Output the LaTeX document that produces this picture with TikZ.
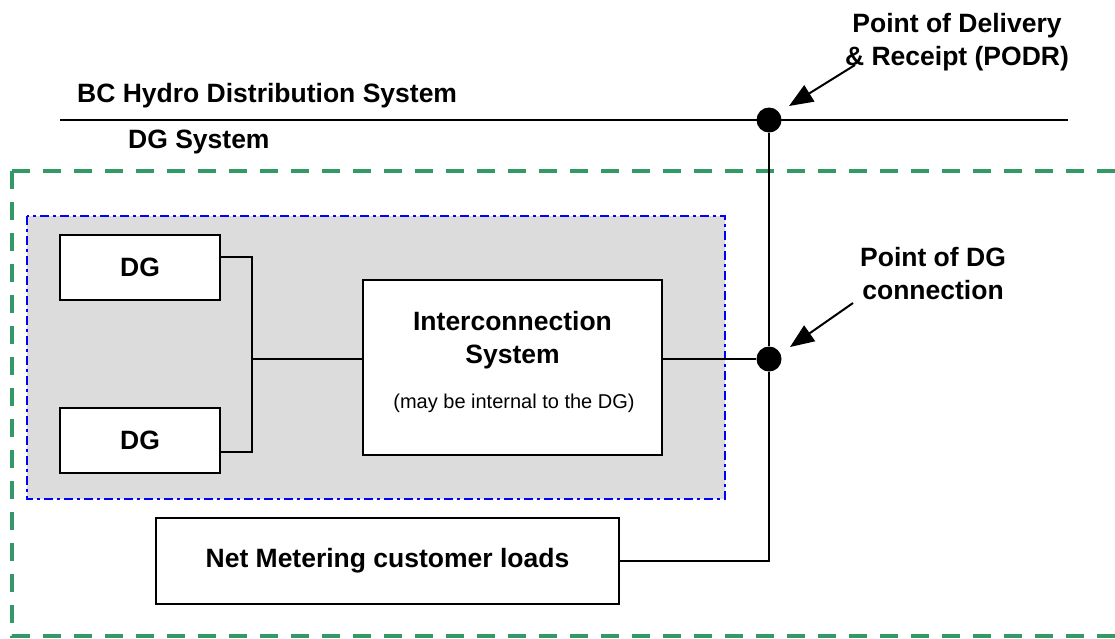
\documentclass[tikz,border=0pt]{standalone}
\usepackage{fontspec}
\setmainfont{Liberation Sans}
\usetikzlibrary{arrows.meta,calc}
\definecolor{dggreen}{RGB}{51,153,102}
\definecolor{panelgray}{RGB}{220,220,220}
\begin{document}
\begin{tikzpicture}[x=1pt,y=-1pt,
  box/.style={draw, line width=2pt, fill=white, inner sep=0pt},
  big/.style={font=\fontsize{26.5}{32.5}\selectfont\bfseries, inner sep=0pt},
  small/.style={font=\fontsize{20}{24}\selectfont, inner sep=0pt},
  wire/.style={line width=1.5pt},
  junction/.style={circle, fill=black, minimum size=25pt, inner sep=0pt},
  pointer/.style={line width=2pt, -{Triangle[length=24pt,width=19pt]}}]
\useasboundingbox (0,0) rectangle (1115,638);
% DG system boundary (green dashed)
\draw[dggreen, line width=4pt, dash pattern=on 18pt off 13pt] (12,171) -- (1135,171);
\draw[dggreen, line width=4pt, dash pattern=on 18pt off 13pt] (12,171) -- (12,636) -- (1135,636);
% generation panel (blue dash-dot)
\draw[fill=panelgray, draw=blue, line width=2.6pt, dash pattern=on 9pt off 4pt on 3pt off 4pt] (27,216) rectangle (725,499);
% distribution line
\coordinate (busL) at (60,120);
\coordinate (busR) at (1068,120);
\draw[wire] (busL) -- (busR);
% junctions
\node[junction] (podr) at (769,120) {};
\node[junction] (pdg) at (769,359) {};
% boxes
\node[box, minimum width=160pt, minimum height=65pt, big] (dg1) at (140,267.5) {DG};
\node[box, minimum width=160pt, minimum height=65pt, big] (dg2) at (140,440.5) {DG};
\node[box, minimum width=299pt, minimum height=175pt] (ic) at (512.5,367.5) {};
\node[big, align=center, anchor=base] (ictext) at (512.5,363) {Interconnection\\System};
\node[small, anchor=base] (icnote) at (514,408) {(may be internal to the DG)};
\node[box, minimum width=463pt, minimum height=86pt, big] (net) at (387.5,561) {Net Metering customer loads};
% labels
\node[big, anchor=base west] (bchl) at (77,102) {BC Hydro Distribution System};
\node[big, anchor=base west] (dgsl) at (128,148) {DG System};
\node[big, align=center, anchor=base] (podrl) at (957,65) {Point of Delivery\\\& Receipt (PODR)};
\node[big, align=center, anchor=base] (pdgl) at (933,299) {Point of DG\\connection};
% wiring
\coordinate (bj) at (252,359);
\draw[wire] ($(dg1.east)+(0,-10.5)$) -| (bj);
\draw[wire] ($(dg2.east)+(0,11.5)$) -| (bj);
\draw[wire] (bj) -- (ic.west |- bj);
\draw[wire] (ic.east |- pdg) -- (pdg);
\draw[wire] (podr) -- (pdg);
\draw[wire] (pdg) |- (net.east);
% pointers
\coordinate (a1s) at (855,65);
\coordinate (a1e) at (789,106);
\coordinate (a2s) at (853,303);
\coordinate (a2e) at (790,347);
\draw[pointer] (a1s) -- (a1e);
\draw[pointer] (a2s) -- (a2e);
\end{tikzpicture}
\end{document}
